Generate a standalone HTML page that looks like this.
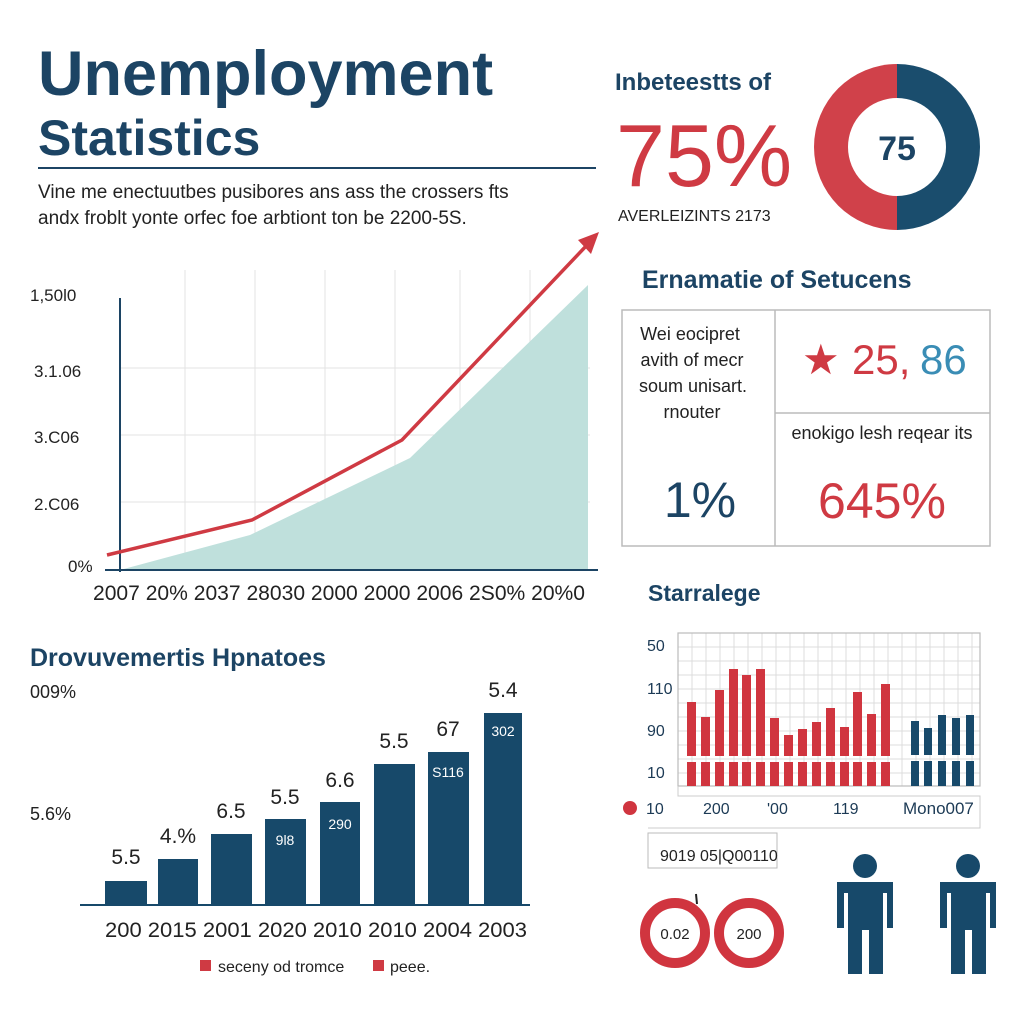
<!DOCTYPE html>
<html><head><meta charset="utf-8"><style>
html,body{margin:0;padding:0;background:#fff;}
svg{display:block;font-family:"Liberation Sans",sans-serif;}
</style></head><body>
<svg width="1024" height="1024" viewBox="0 0 1024 1024" xmlns="http://www.w3.org/2000/svg">
<rect width="1024" height="1024" fill="#fff"/>
<!-- Title -->
<text x="38" y="95" font-size="63" font-weight="bold" fill="#1c4464">Unemployment</text>
<text x="38" y="155" font-size="50" font-weight="bold" fill="#1c4464">Statistics</text>
<line x1="38" y1="168" x2="596" y2="168" stroke="#1c4464" stroke-width="2"/>
<text x="38" y="198" font-size="19" fill="#222">Vine me enectuutbes pusibores ans ass the crossers fts</text>
<text x="38" y="224" font-size="19" fill="#222">andx froblt yonte orfec foe arbtiont ton be 2200-5S.</text>

<!-- Main chart -->
<g stroke="#e3e3e3" stroke-width="1">
<line x1="185" y1="270" x2="185" y2="570"/><line x1="255" y1="270" x2="255" y2="570"/>
<line x1="325" y1="270" x2="325" y2="570"/><line x1="395" y1="270" x2="395" y2="570"/>
<line x1="460" y1="270" x2="460" y2="570"/><line x1="530" y1="270" x2="530" y2="570"/>
<line x1="120" y1="368" x2="590" y2="368"/><line x1="120" y1="435" x2="590" y2="435"/>
<line x1="120" y1="502" x2="590" y2="502"/>
</g>
<polygon points="120,570 250,535 410,458 588,285 588,570" fill="#bfe0dc"/>
<line x1="120" y1="298" x2="120" y2="572" stroke="#1c4464" stroke-width="2"/>
<line x1="105" y1="570" x2="598" y2="570" stroke="#1c4464" stroke-width="2"/>
<polyline points="107,555 252,520 402,440 588,244" fill="none" stroke="#cf3a43" stroke-width="3.5"/>
<polygon points="599,232 578,240 591,254" fill="#cf3a43"/>
<g font-size="17" fill="#222">
<text x="30" y="301">1,50l0</text><text x="34" y="377">3.1.06</text>
<text x="34" y="443">3.C06</text><text x="34" y="510">2.C06</text><text x="68" y="572">0%</text>
<text x="93" y="600" font-size="21" textLength="492" lengthAdjust="spacingAndGlyphs">2007 20% 2037 28030 2000 2000 2006 2S0% 20%0</text>
</g>

<!-- Top right -->
<text x="615" y="90" font-size="24" font-weight="bold" fill="#1c4464">Inbeteestts of</text>
<text x="616" y="186" font-size="88" fill="#cf3a43">75%</text>
<text x="618" y="221" font-size="16" fill="#222">AVERLEIZINTS 2173</text>
<path d="M897,64 A83,83 0 0,0 897,230 Z" fill="#d0414a"/>
<path d="M897,64 A83,83 0 0,1 897,230 Z" fill="#1a4d6d"/>
<circle cx="897" cy="147" r="49" fill="#fff"/>
<text x="897" y="160" font-size="34" font-weight="bold" fill="#1c4464" text-anchor="middle">75</text>

<text x="642" y="288" font-size="25" font-weight="bold" fill="#1c4464">Ernamatie of Setucens</text>
<rect x="622" y="310" width="368" height="236" fill="none" stroke="#bbb" stroke-width="1.5"/>
<line x1="775" y1="310" x2="775" y2="546" stroke="#bbb" stroke-width="1.5"/>
<line x1="775" y1="413" x2="990" y2="413" stroke="#bbb" stroke-width="1.5"/>
<g font-size="18" fill="#222" text-anchor="middle">
<text x="690" y="340">Wei eocipret</text><text x="692" y="366">avith of mecr</text>
<text x="693" y="392">soum unisart.</text><text x="692" y="418">rnouter</text>
</g>
<text x="700" y="517" font-size="50" fill="#1c4464" text-anchor="middle">1%</text>
<text x="802" y="374" font-size="42" fill="#cf3a43">★</text>
<text x="852" y="374" font-size="42" fill="#cf3a43">25,</text>
<text x="920" y="374" font-size="42" fill="#3a8db5">86</text>
<text x="882" y="439" font-size="18" fill="#222" text-anchor="middle">enokigo lesh reqear its</text>
<text x="882" y="518" font-size="50" fill="#cf3a43" text-anchor="middle">645%</text>

<!-- Bottom left bars -->
<text x="30" y="666" font-size="25" font-weight="bold" fill="#1c4464">Drovuvemertis Hpnatoes</text>
<text x="30" y="698" font-size="18" fill="#222">009%</text>
<text x="30" y="820" font-size="18" fill="#222">5.6%</text>
<g fill="#17496a">
<rect x="105" y="881" width="42" height="24"/><rect x="158" y="859" width="40" height="46"/>
<rect x="211" y="834" width="41" height="71"/><rect x="265" y="819" width="41" height="86"/>
<rect x="320" y="802" width="40" height="103"/><rect x="374" y="764" width="41" height="141"/>
<rect x="428" y="752" width="41" height="153"/><rect x="484" y="713" width="38" height="192"/>
</g>
<line x1="80" y1="905" x2="530" y2="905" stroke="#17496a" stroke-width="2"/>
<g font-size="21" fill="#222" text-anchor="middle">
<text x="126" y="864">5.5</text><text x="178" y="843">4.%</text><text x="231" y="818">6.5</text>
<text x="285" y="804">5.5</text><text x="340" y="787">6.6</text><text x="394" y="748">5.5</text>
<text x="448" y="736">67</text><text x="503" y="697">5.4</text>
</g>
<g font-size="14" fill="#fff" text-anchor="middle">
<text x="285" y="845">9l8</text><text x="340" y="829">290</text><text x="448" y="777">S116</text><text x="503" y="736">302</text>
</g>
<text x="316" y="937" font-size="21" fill="#222" text-anchor="middle" textLength="422" lengthAdjust="spacingAndGlyphs">200 2015 2001 2020 2010 2010 2004 2003</text>
<rect x="200" y="960" width="11" height="11" fill="#cf3a43"/>
<text x="218" y="972" font-size="16" fill="#222">seceny od tromce</text>
<rect x="373" y="960" width="11" height="11" fill="#cf3a43"/>
<text x="390" y="972" font-size="16" fill="#222">peee.</text>

<!-- Bottom right chart -->
<text x="648" y="601" font-size="23" font-weight="bold" fill="#1c4464">Starralege</text>
<g stroke="#dcdcdc" stroke-width="1">
<line x1="692" y1="633" x2="692" y2="786"/><line x1="706" y1="633" x2="706" y2="786"/><line x1="720" y1="633" x2="720" y2="786"/><line x1="734" y1="633" x2="734" y2="786"/><line x1="748" y1="633" x2="748" y2="786"/><line x1="762" y1="633" x2="762" y2="786"/><line x1="776" y1="633" x2="776" y2="786"/><line x1="790" y1="633" x2="790" y2="786"/><line x1="804" y1="633" x2="804" y2="786"/><line x1="818" y1="633" x2="818" y2="786"/><line x1="832" y1="633" x2="832" y2="786"/><line x1="846" y1="633" x2="846" y2="786"/><line x1="860" y1="633" x2="860" y2="786"/><line x1="874" y1="633" x2="874" y2="786"/><line x1="888" y1="633" x2="888" y2="786"/><line x1="902" y1="633" x2="902" y2="786"/><line x1="916" y1="633" x2="916" y2="786"/><line x1="930" y1="633" x2="930" y2="786"/><line x1="944" y1="633" x2="944" y2="786"/><line x1="958" y1="633" x2="958" y2="786"/><line x1="972" y1="633" x2="972" y2="786"/>
<line x1="678" y1="647" x2="980" y2="647"/><line x1="678" y1="661" x2="980" y2="661"/><line x1="678" y1="675" x2="980" y2="675"/><line x1="678" y1="689" x2="980" y2="689"/><line x1="678" y1="703" x2="980" y2="703"/><line x1="678" y1="717" x2="980" y2="717"/><line x1="678" y1="731" x2="980" y2="731"/><line x1="678" y1="745" x2="980" y2="745"/><line x1="678" y1="759" x2="980" y2="759"/><line x1="678" y1="773" x2="980" y2="773"/>
</g>
<rect x="678" y="633" width="302" height="153" fill="none" stroke="#bbb" stroke-width="1.2"/>
<g fill="#d0353f">
<rect x="687" y="702" width="9" height="54"/><rect x="701" y="717" width="9" height="39"/><rect x="715" y="690" width="9" height="66"/><rect x="729" y="669" width="9" height="87"/><rect x="742" y="675" width="9" height="81"/><rect x="756" y="669" width="9" height="87"/><rect x="770" y="718" width="9" height="38"/><rect x="784" y="735" width="9" height="21"/><rect x="798" y="729" width="9" height="27"/><rect x="812" y="722" width="9" height="34"/><rect x="826" y="708" width="9" height="48"/><rect x="840" y="727" width="9" height="29"/><rect x="853" y="692" width="9" height="64"/><rect x="867" y="714" width="9" height="42"/><rect x="881" y="684" width="9" height="72"/>
<rect x="687" y="762" width="9" height="24"/><rect x="701" y="762" width="9" height="24"/><rect x="715" y="762" width="9" height="24"/><rect x="729" y="762" width="9" height="24"/><rect x="742" y="762" width="9" height="24"/><rect x="756" y="762" width="9" height="24"/><rect x="770" y="762" width="9" height="24"/><rect x="784" y="762" width="9" height="24"/><rect x="798" y="762" width="9" height="24"/><rect x="812" y="762" width="9" height="24"/><rect x="826" y="762" width="9" height="24"/><rect x="840" y="762" width="9" height="24"/><rect x="853" y="762" width="9" height="24"/><rect x="867" y="762" width="9" height="24"/><rect x="881" y="762" width="9" height="24"/>
</g>
<g fill="#17496a">
<rect x="911" y="721" width="8" height="34"/><rect x="924" y="728" width="8" height="27"/><rect x="938" y="715" width="8" height="40"/><rect x="952" y="718" width="8" height="37"/><rect x="966" y="715" width="8" height="40"/>
<rect x="911" y="761" width="8" height="25"/><rect x="924" y="761" width="8" height="25"/><rect x="938" y="761" width="8" height="25"/><rect x="952" y="761" width="8" height="25"/><rect x="966" y="761" width="8" height="25"/>
</g>
<g font-size="16" fill="#1c3a55">
<text x="647" y="651">50</text><text x="647" y="694">110</text><text x="647" y="736">90</text><text x="647" y="778">10</text>
<text x="646" y="814">10</text><text x="703" y="814">200</text><text x="767" y="814">'00</text><text x="833" y="814">119</text><text x="903" y="814" font-size="17">Mono007</text>
</g>
<circle cx="630" cy="808" r="7" fill="#d0353f"/>
<polyline points="678,786 678,796 980,796 980,828 648,828" fill="none" stroke="#ccc" stroke-width="1"/>
<rect x="648" y="833" width="129" height="35" fill="none" stroke="#bbb" stroke-width="1"/>
<text x="660" y="861" font-size="16" fill="#222">9019 05|Q00110</text>
<circle cx="675" cy="933" r="30" fill="none" stroke="#d0353f" stroke-width="10"/>
<circle cx="749" cy="933" r="30" fill="none" stroke="#d0353f" stroke-width="10"/>
<line x1="696" y1="894" x2="697" y2="904" stroke="#222" stroke-width="2"/>
<text x="675" y="939" font-size="15" fill="#222" text-anchor="middle">0.02</text>
<text x="749" y="939" font-size="15" fill="#222" text-anchor="middle">200</text>
<g fill="#17496a">
<circle cx="865" cy="866" r="12"/>
<path d="M837,882 H893 V928 H887 V893 H883 V974 H869 V930 H862 V974 H848 V893 H844 V928 H837 Z"/>
<circle cx="968" cy="866" r="12"/>
<path d="M940,882 H996 V928 H990 V893 H986 V974 H972 V930 H965 V974 H951 V893 H947 V928 H940 Z"/>
</g>
</svg>
</body></html>
